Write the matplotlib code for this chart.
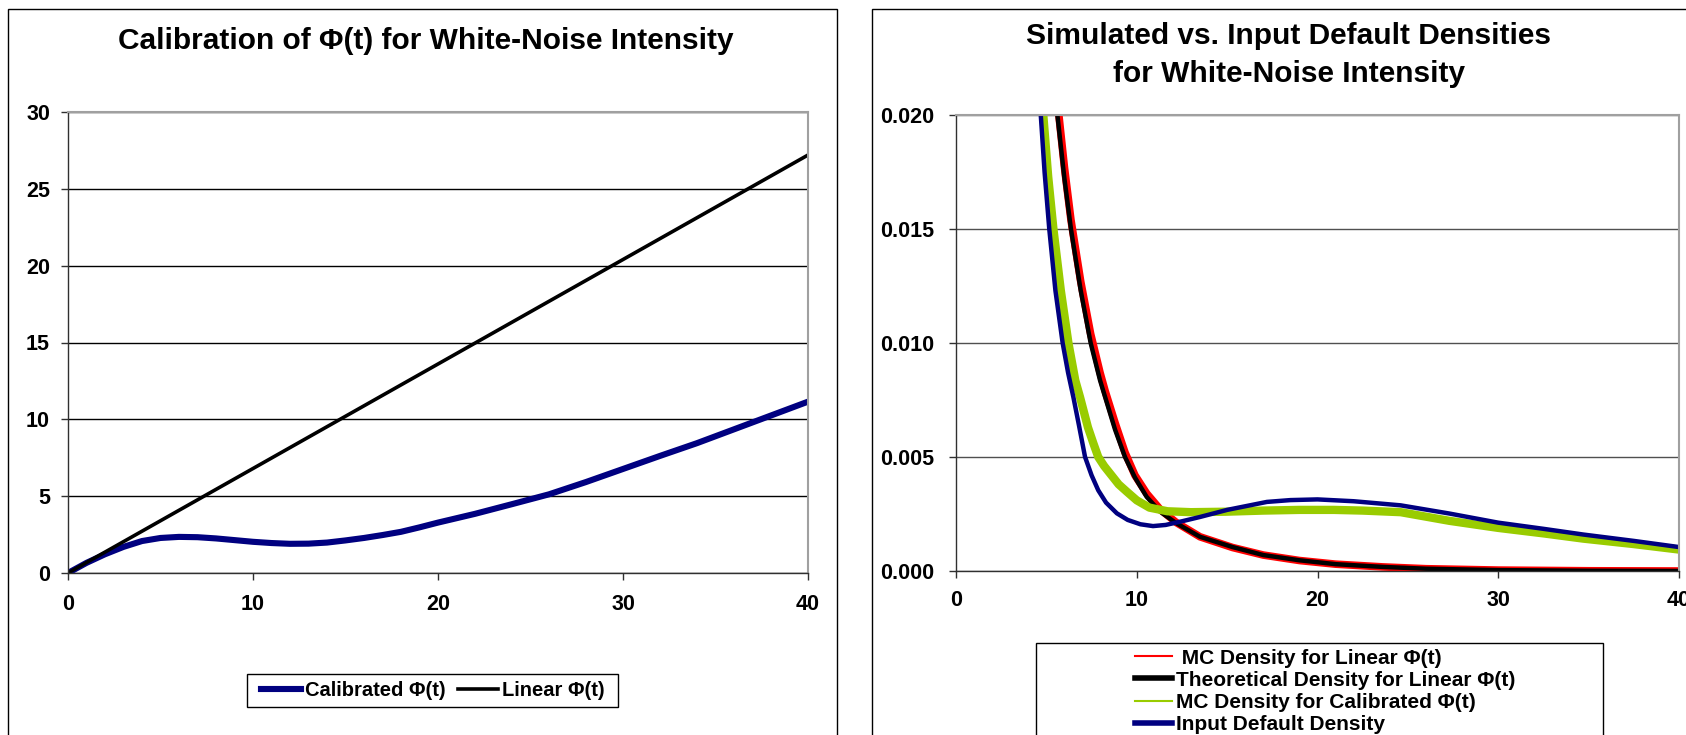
import matplotlib
matplotlib.use('Agg')
import matplotlib.pyplot as plt
from matplotlib.patches import Rectangle
from matplotlib.lines import Line2D
from matplotlib.ticker import FormatStrFormatter

plt.rcParams['font.family'] = ['Liberation Sans', 'DejaVu Sans']
plt.rcParams['font.weight'] = 'bold'

W, H = 1686, 735

# left chart: calibration of phi(t)
t_cal = [0, 1, 2, 3, 4, 5, 6, 7, 8, 9, 10, 11, 12, 13, 14, 15, 16, 17, 18, 19,
         20, 22, 24, 26, 28, 30, 32, 34, 36, 38, 40]
phi_cal = [0, 0.66, 1.22, 1.70, 2.08, 2.28, 2.35, 2.33, 2.25, 2.14, 2.03, 1.95,
           1.90, 1.91, 1.98, 2.12, 2.28, 2.47, 2.68, 2.97, 3.28, 3.85, 4.48,
           5.12, 5.92, 6.77, 7.62, 8.45, 9.35, 10.25, 11.15]
t_lin = [0, 40]
phi_lin = [0, 27.2]

# right chart: densities
t_mc_lin = [4.8, 5.2, 5.61, 6.0, 6.36, 6.9, 7.45, 7.97, 8.25, 8.8, 9.35, 9.9,
            10.55, 11.3, 12.2, 13.5, 15.3, 17.0, 19.0, 21.0, 23.6, 26.0, 30.0,
            35.0, 40.0]
d_mc_lin = [0.0288, 0.0248, 0.0206, 0.0177, 0.0154, 0.0127, 0.0104, 0.0087,
            0.0079, 0.0065, 0.0052, 0.0042, 0.0034, 0.0027, 0.00212, 0.0015,
            0.00103, 0.0007, 0.00046, 0.0003, 0.00018, 0.0001, 0.00004,
            0.00001, 0.0]
t_theo = [4.8, 5.2, 5.61, 6.0, 6.36, 6.9, 7.45, 7.97, 8.25, 8.8, 9.35, 9.9,
          10.55, 11.3, 12.2, 13.5, 15.3, 17.0, 19.0, 21.0, 23.6, 26.0, 30.0,
          35.0, 40.0]
d_theo = [0.028, 0.024, 0.020, 0.0172, 0.0150, 0.0123, 0.0100, 0.00836,
          0.00763, 0.0062, 0.0050, 0.0041, 0.00325, 0.0026, 0.00209, 0.0015,
          0.00105, 0.0007, 0.00047, 0.0003, 0.00018, 0.0001, 0.00004, 0.00001,
          0.0]
t_mc_cal = [4.2, 4.5, 4.83, 5.1, 5.39, 5.8, 6.22, 6.6, 6.86, 7.3, 7.6, 7.87,
            8.2, 8.6, 9.0, 9.45, 10.0, 10.7, 11.7, 13.0, 14.9, 17.0, 19.0,
            20.9, 22.5, 24.6, 27.3, 30.0, 32.5, 34.7, 37.5, 40.0]
d_mc_cal = [0.029, 0.0245, 0.020, 0.0173, 0.0150, 0.0123, 0.0100, 0.00836,
            0.00763, 0.0063, 0.0056, 0.0050, 0.0046, 0.0042, 0.0038, 0.00348,
            0.0031, 0.00278, 0.00262, 0.00258, 0.0026, 0.00265, 0.00268,
            0.00268, 0.00265, 0.00258, 0.0022, 0.00189, 0.00165, 0.00142,
            0.00118, 0.00094]
t_input = [4.0, 4.3, 4.69, 4.9, 5.16, 5.5, 5.9, 6.2, 6.5, 6.8, 7.14, 7.5, 7.87,
           8.3, 8.9, 9.5, 10.2, 10.9, 11.6, 12.5, 13.5, 15.0, 17.2, 18.5, 20.0,
           22.0, 24.6, 27.3, 30.0, 32.5, 34.7, 37.5, 40.0]
d_input = [0.029, 0.025, 0.020, 0.0175, 0.015, 0.0123, 0.0100, 0.0087, 0.0076,
           0.0064, 0.0050, 0.0042, 0.00354, 0.0030, 0.00253, 0.00224, 0.00205,
           0.00197, 0.00202, 0.00218, 0.00237, 0.00268, 0.00303, 0.00311,
           0.00314, 0.00306, 0.00288, 0.00252, 0.00212, 0.00185, 0.00160,
           0.00132, 0.00105]

NAVY = '#000080'
GREEN = '#99CC00'


def frac(x0, y0, x1, y1):
    # pixel box (top-left origin) -> figure fraction [left, bottom, w, h]
    return [x0 / W, 1 - y1 / H, (x1 - x0) / W, (y1 - y0) / H]


def frame(x0, y0, x1, y1, lw=1.0, color='black'):
    l, b, w, h = frac(x0, y0, x1, y1)
    fig.patches.append(Rectangle((l, b), w, h, transform=fig.transFigure,
                                 fill=False, ec=color, lw=lw))


def style(ax, gridcolor, ypad, xpad):
    ax.set_xlim(0, 40)
    ax.set_xticks([0, 10, 20, 30, 40])
    ax.yaxis.grid(True, color=gridcolor, lw=1)
    ax.set_axisbelow(True)
    for s in ['top', 'right']:
        ax.spines[s].set_color('#a0a0a0')
        ax.spines[s].set_linewidth(1.5)
    for s in ['left', 'bottom']:
        ax.spines[s].set_color('#303030')
        ax.spines[s].set_linewidth(1.0)
    ax.tick_params(direction='out', length=5, width=1, color='#303030',
                   labelsize=15.5)
    ax.tick_params(axis='y', pad=ypad)
    ax.tick_params(axis='x', pad=xpad)
    for lab in ax.get_xticklabels() + ax.get_yticklabels():
        lab.set_fontweight('bold')


fig = plt.figure(figsize=(W / 100, H / 100), dpi=100)

frame(8, 9, 837, 760)
frame(872, 9, 1720, 760)

# ---- left chart
ax1 = fig.add_axes(frac(68, 112, 808, 573))
ax1.plot(t_cal, phi_cal, color=NAVY, lw=4.4, solid_capstyle='butt')
ax1.plot(t_lin, phi_lin, color='black', lw=2.6)
ax1.set_ylim(0, 30)
ax1.set_yticks([0, 5, 10, 15, 20, 25, 30])
style(ax1, 'black', 8, 10)

fig.text(426 / W, 1 - 41 / H, 'Calibration of Φ(t) for White-Noise Intensity',
         ha='center', va='center', fontsize=21.5, fontweight='bold')

frame(247, 674, 618, 707)
h1 = [Line2D([], [], color=NAVY, lw=4.4), Line2D([], [], color='black', lw=2.6)]
fig.legend(h1, ['Calibrated Φ(t)', 'Linear Φ(t)'], ncol=2, loc='center',
           bbox_to_anchor=((247 + 618) / 2 / W, 1 - 691 / H), frameon=False,
           fontsize=14.5, handlelength=2.0, handletextpad=0.2,
           columnspacing=0.6, borderpad=0.2)

# ---- right chart
ax2 = fig.add_axes(frac(956, 115, 1679, 571))
ax2.plot(t_mc_lin, d_mc_lin, color='red', lw=5.5)
ax2.plot(t_theo, d_theo, color='black', lw=3.2)
ax2.plot(t_mc_cal, d_mc_cal, color=GREEN, lw=6)
ax2.plot(t_input, d_input, color=NAVY, lw=3.2)
ax2.set_ylim(0, 0.02)
ax2.set_yticks([0, 0.005, 0.010, 0.015, 0.020])
ax2.yaxis.set_major_formatter(FormatStrFormatter('%.3f'))
style(ax2, '#505050', 11, 9)

fig.text(1289 / W, 1 - 36 / H, 'Simulated vs. Input Default Densities',
         ha='center', va='center', fontsize=21.5, fontweight='bold')
fig.text(1289 / W, 1 - 74 / H, 'for White-Noise Intensity',
         ha='center', va='center', fontsize=21.5, fontweight='bold')

frame(1036, 643, 1603, 760)
h2 = [Line2D([], [], color='red', lw=1.5),
      Line2D([], [], color='black', lw=4),
      Line2D([], [], color=GREEN, lw=1.5),
      Line2D([], [], color=NAVY, lw=4)]
fig.legend(h2, [' MC Density for Linear Φ(t)',
                'Theoretical Density for Linear Φ(t)',
                'MC Density for Calibrated Φ(t)',
                'Input Default Density'],
           loc='upper left', bbox_to_anchor=(1120 / W, 1 - 634 / H),
           frameon=False, fontsize=15, handlelength=1.8, handletextpad=0.2,
           labelspacing=0.15, borderpad=0.2)

fig.savefig('out.png', dpi=100)
